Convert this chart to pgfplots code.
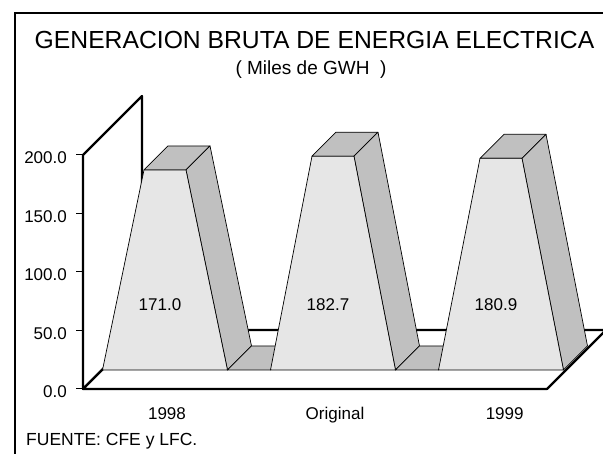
\documentclass[border=0pt]{standalone}
\usepackage{pgfplots}
\pgfplotsset{compat=1.18}
\usepackage{fontspec}
\setmainfont{Liberation Sans}
\definecolor{frontgray}{RGB}{230,230,230}
\definecolor{sidegray}{RGB}{192,192,192}
\newcommand{\yf}{0.322}
\newcommand{\yb}{0.729}
% #1 left base, #2 left top, #3 right top, #4 right base, #5 value
\newcommand{\pyramid}[5]{%
  \addplot3[fill=sidegray, draw=black, line width=0.7pt, line join=round] coordinates {(#2,\yf,#5) (#3,\yf,#5) (#3,\yb,#5) (#2,\yb,#5)} -- cycle;
  \addplot3[fill=sidegray, draw=black, line width=0.7pt, line join=round] coordinates {(#3,\yf,#5) (#4,\yf,0) (#4,\yb,0) (#3,\yb,#5)} -- cycle;
  \addplot3[fill=frontgray, draw=black, line width=0.7pt, line join=round] coordinates {(#1,\yf,0) (#2,\yf,#5) (#3,\yf,#5) (#4,\yf,0)} -- cycle;
}
\newcommand{\gap}[2]{%
  \addplot3[fill=sidegray, draw=black, line width=0.7pt, line join=round] coordinates {(#1,\yf,0) (#2,\yf,0) (#2,\yb,0) (#1,\yb,0)} -- cycle;
}
\begin{document}
\begin{tikzpicture}
\useasboundingbox (0pt,0pt) rectangle (603pt,454pt);
\draw[line width=2pt] (15pt,0pt) -- (15pt,441pt) -- (603pt,441pt);
\node[anchor=base, font=\fontsize{24.7}{28}\selectfont, inner sep=0pt] at (314.5pt,405pt) {GENERACION BRUTA DE ENERGIA ELECTRICA};
\node[anchor=base, font=\fontsize{19}{22}\selectfont, inner sep=0pt] at (311pt,379pt) {( Miles de GWH\ \ )};
\node[anchor=base west, font=\fontsize{17.5}{20}\selectfont, inner sep=0pt] at (26pt,8pt) {FUENTE: CFE y LFC.};
\begin{axis}[
  at={(146pt,65pt)}, anchor=origin,
  x={(168pt,0pt)}, y={(59pt,59pt)}, z={(0pt,1.17pt)},
  xmin=-0.375, xmax=2.387, ymin=0, ymax=1, zmin=0, zmax=200,
  clip=false,
  axis lines=left,
  axis line style={draw=none},
  ytick=\empty,
  xtick={0.125,1.125,2.135},
  xticklabels={1998,Original,1999},
  ztick={0,50,100,150,200},
  /pgf/number format/assume math mode=true,
  zticklabel={\pgfmathprintnumber[fixed,fixed zerofill,precision=1]{\tick}},
  tick label style={font=\fontsize{17}{20}\selectfont, black, inner sep=0pt},
  zticklabel style={anchor=east, xshift=-16pt, yshift=-3pt},
  xticklabel style={anchor=north, yshift=-18pt},
  major tick length=0pt,
  tick style={draw=none},
]
% left wall and floor
\addplot3[fill=white, draw=black, line width=2.2pt, line join=round] coordinates {(-0.375,0,0) (-0.375,0,200) (-0.375,1,200) (-0.375,1,0)} -- cycle;
\addplot3[fill=white, draw=black, line width=2.2pt, line join=round] coordinates {(-0.375,0,0) (2.387,0,0) (2.387,1,0) (-0.375,1,0)} -- cycle;
% value-axis tick marks
\pgfplotsinvokeforeach{0,50,100,150,200}{
  \addplot3[black, line width=1pt] coordinates {(-0.375,0,#1) (-0.4167,0,#1)};
}
% ribbon of truncated pyramids
\pyramid{-0.372}{-0.125}{0.125}{0.372}{171.0}
\gap{0.372}{0.628}
\pyramid{0.628}{0.875}{1.125}{1.372}{182.7}
\gap{1.372}{1.628}
\pyramid{1.628}{1.875}{2.125}{2.372}{180.9}
\node[font=\fontsize{17}{20}\selectfont] at (axis cs:-0.03,\yf,56) {171.0};
\node[font=\fontsize{17}{20}\selectfont] at (axis cs:0.97,\yf,56) {182.7};
\node[font=\fontsize{17}{20}\selectfont] at (axis cs:1.97,\yf,56) {180.9};
\end{axis}
\end{tikzpicture}
\end{document}
